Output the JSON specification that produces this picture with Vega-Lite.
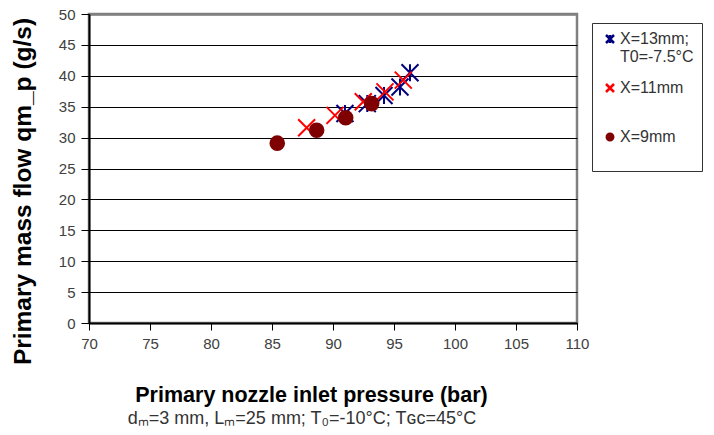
{
  "$schema": "https://vega.github.io/schema/vega-lite/v6.json",
  "autosize": "none",
  "padding": {"left": 89, "top": 14, "right": 137, "bottom": 112},
  "width": 488,
  "height": 309,
  "background": "white",
  "config": {
    "font": "Liberation Sans",
    "view": {"stroke": "#808080", "strokeWidth": 2.5},
    "title": {"font": "Liberation Sans"}
  },
  "title": {
    "text": "dₘ=3 mm, Lₘ=25 mm; T₀=-10°C; Tɢᴄ=45°C",
    "orient": "bottom",
    "anchor": "middle",
    "frame": "group",
    "fontSize": 18,
    "fontWeight": "normal",
    "color": "#333333",
    "offset": 4,
    "dx": -31
  },
  "data": {
    "values": [
      {"series": "X=13mm; T0=-7.5°C", "p": 90.98, "q": 33.9},
      {"series": "X=13mm; T0=-7.5°C", "p": 92.81, "q": 35.5},
      {"series": "X=13mm; T0=-7.5°C", "p": 94.18, "q": 36.8},
      {"series": "X=13mm; T0=-7.5°C", "p": 95.49, "q": 38.2},
      {"series": "X=13mm; T0=-7.5°C", "p": 96.31, "q": 40.5},
      {"series": "X=11mm", "p": 87.84, "q": 31.6},
      {"series": "X=11mm", "p": 90.16, "q": 33.6},
      {"series": "X=11mm", "p": 92.48, "q": 35.8},
      {"series": "X=11mm", "p": 94.26, "q": 37.4},
      {"series": "X=11mm", "p": 95.76, "q": 39.3},
      {"series": "X=9mm", "p": 85.43, "q": 29.1},
      {"series": "X=9mm", "p": 88.66, "q": 31.2},
      {"series": "X=9mm", "p": 91.04, "q": 33.2},
      {"series": "X=9mm", "p": 93.17, "q": 35.5}
    ]
  },
  "mark": {"type": "point", "size": 289, "strokeWidth": 2, "opacity": 1},
  "encoding": {
    "x": {
      "field": "p", "type": "quantitative",
      "scale": {"domain": [70, 110], "nice": false, "zero": false},
      "axis": {
        "values": [70, 75, 80, 85, 90, 95, 100, 105, 110],
        "grid": false,
        "title": "Primary nozzle inlet pressure (bar)",
        "titleFont": "Liberation Sans",
        "titleFontSize": 21.5,
        "titleFontWeight": "bold",
        "titleColor": "black",
        "titlePadding": 33,
        "titleX": 222,
        "titleAlign": "center",
        "labelFont": "Liberation Sans",
        "labelFontSize": 15,
        "labelColor": "#404040",
        "labelPadding": 6,
        "labelFlush": false,
        "tickColor": "black",
        "tickSize": 7,
        "domainColor": "black",
        "domainWidth": 2
      }
    },
    "y": {
      "field": "q", "type": "quantitative",
      "scale": {"domain": [0, 50], "nice": false},
      "axis": {
        "values": [0, 5, 10, 15, 20, 25, 30, 35, 40, 45, 50],
        "grid": true,
        "gridColor": {"condition": {"test": "datum.value == 50", "value": "#808080"}, "value": "black"},
        "gridWidth": {"condition": {"test": "datum.value == 50", "value": 2.5}, "value": 1},
        "title": "Primary mass flow  qm_p (g/s)",
        "titleFont": "Liberation Sans",
        "titleFontSize": 24.5,
        "titleFontWeight": "bold",
        "titleColor": "black",
        "titleAngle": -90,
        "titleX": -59,
        "titleY": 177,
        "titleAlign": "center",
        "titleBaseline": "alphabetic",
        "labelFont": "Liberation Sans",
        "labelFontSize": 15,
        "labelColor": "#404040",
        "labelPadding": 6,
        "labelFlush": false,
        "tickColor": "black",
        "tickSize": 8,
        "domainColor": "black",
        "domainWidth": 2
      }
    },
    "shape": {
      "field": "series", "type": "nominal",
      "scale": {
        "domain": ["X=13mm; T0=-7.5°C", "X=11mm", "X=9mm"],
        "range": ["M-1,-1L1,1M-1,1L1,-1M0,-1L0,1", "M-1,-1L1,1M-1,1L1,-1", "M-0.8,0A0.8,0.8 0 1,0 0.8,0A0.8,0.8 0 1,0 -0.8,0Z"]
      },
      "legend": {
        "title": null,
        "orient": "none",
        "legendX": 503,
        "legendY": 9,
        "strokeColor": "#333333",
        "fillColor": "white",
        "padding": 8,
        "symbolSize": 64,
        "symbolStrokeWidth": 2.5,
        "symbolOffset": 2,
        "labelFont": "Liberation Sans",
        "labelFontSize": 16,
        "labelColor": "#333333",
        "labelLimit": 300,
        "labelBaseline": "middle",
        "labelOffset": 2,
        "rowPadding": 14,
        "labelExpr": "datum.label == 'X=13mm; T0=-7.5°C' ? ['X=13mm;', 'T0=-7.5°C    '] : [datum.label, '']",
        "encode": {"labels": {"enter": {"dy": {"value": 10}}, "update": {"dy": {"value": 10}, "lineHeight": {"value": 20}}}}
      }
    },
    "stroke": {
      "field": "series", "type": "nominal",
      "scale": {
        "domain": ["X=13mm; T0=-7.5°C", "X=11mm", "X=9mm"],
        "range": ["#00007f", "#ff0000", "#7f0000"]
      }
    },
    "fill": {
      "field": "series", "type": "nominal",
      "scale": {
        "domain": ["X=13mm; T0=-7.5°C", "X=11mm", "X=9mm"],
        "range": ["transparent", "transparent", "#7f0000"]
      }
    }
  }
}
